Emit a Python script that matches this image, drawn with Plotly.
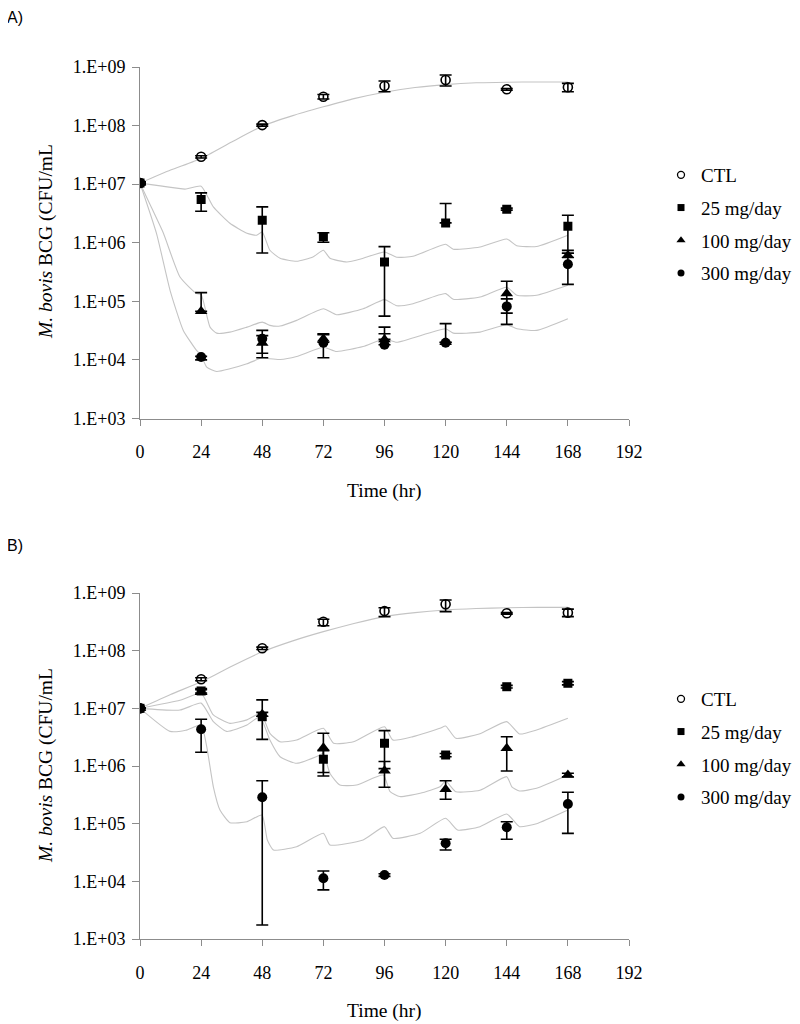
import plotly.graph_objects as go

# ---------------- data ----------------
hours = [0, 24, 48, 72, 96, 120, 144, 168]
x_ticks = [0, 24, 48, 72, 96, 120, 144, 168, 192]
y_tick_vals = [1e3, 1e4, 1e5, 1e6, 1e7, 1e8, 1e9]
y_tick_text = ["1.E+03", "1.E+04", "1.E+05", "1.E+06", "1.E+07", "1.E+08", "1.E+09"]
series_names = ["CTL", "25 mg/day", "100 mg/day", "300 mg/day"]

# Panel A observed (mean, upper, lower) CFU/mL
a_ctl = [1.05e7, 2.93e7, 1.02e8, 3.1e8, 4.73e8, 6.0e8, 4.16e8, 4.5e8]
a_ctl_hi = [1.05e7, 3.05e7, 1.06e8, 3.4e8, 5.76e8, 7.3e8, 4.3e8, 5.25e8]
a_ctl_lo = [1.05e7, 2.8e7, 0.98e8, 2.85e8, 3.78e8, 4.73e8, 4.0e8, 3.78e8]
a_25 = [1.05e7, 5.47e6, 2.43e6, 1.26e6, 4.7e5, 2.18e6, 3.74e6, 1.91e6]
a_25_hi = [1.1e7, 7.1e6, 4.1e6, 1.48e6, 8.6e5, 4.68e6, 3.9e6, 2.95e6]
a_25_lo = [1.0e7, 3.45e6, 6.7e5, 1.02e6, 5.6e4, 2.18e6, 3.6e6, 7.4e5]
a_100 = [1.05e7, 6.75e4, 1.94e4, 2.3e4, 2.24e4, 2.0e4, 1.36e5, 6.1e5]
a_100_hi = [1.05e7, 1.41e5, 2.6e4, 2.8e4, 3.63e4, 2.0e4, 2.2e5, 6.6e5]
a_100_lo = [1.05e7, 6.75e4, 1.3e4, 2.0e4, 2.24e4, 2.0e4, 6.3e4, 5.6e5]
a_300 = [1.05e7, 1.12e4, 2.3e4, 1.97e4, 1.82e4, 1.97e4, 8.2e4, 4.29e5]
a_300_hi = [1.05e7, 1.15e4, 3.19e4, 2.7e4, 2.8e4, 4.17e4, 1.1e5, 6.6e5]
a_300_lo = [1.05e7, 1.0e4, 1.09e4, 1.09e4, 1.82e4, 1.97e4, 4.05e4, 1.95e5]

# Panel B observed
b_ctl = [1.0e7, 3.2e7, 1.1e8, 3.18e8, 4.87e8, 6.37e8, 4.45e8, 4.56e8]
b_ctl_hi = [1.0e7, 3.4e7, 1.15e8, 3.5e8, 5.56e8, 7.56e8, 4.6e8, 5.25e8]
b_ctl_lo = [1.0e7, 3.0e7, 1.05e8, 2.7e8, 3.89e8, 4.75e8, 4.3e8, 3.89e8]
b_25 = [1.0e7, 2.0e7, 7.16e6, 1.31e6, 2.48e6, 1.55e6, 2.37e7, 2.72e7]
b_25_hi = [1.0e7, 2.2e7, 1.4e7, 1.85e6, 4.1e6, 1.65e6, 2.5e7, 2.9e7]
b_25_lo = [1.0e7, 1.85e7, 2.9e6, 7.7e5, 9.0e5, 1.45e6, 2.25e7, 2.55e7]
b_100 = [1.0e7, 1.9e7, 7.9e6, 2.08e6, 8.3e5, 3.94e5, 2.03e6, 6.98e5]
b_100_hi = [1.0e7, 2.1e7, 8.5e6, 3.69e6, 1.2e6, 5.56e5, 3.22e6, 7.5e5]
b_100_lo = [1.0e7, 1.75e7, 7.3e6, 6.7e5, 4.27e5, 2.65e5, 8.2e5, 6.5e5]
b_300 = [1.0e7, 4.33e6, 2.87e5, 1.13e4, 1.29e4, 4.57e4, 8.65e4, 2.19e5]
b_300_hi = [1.0e7, 6.46e6, 5.56e5, 1.51e4, 1.35e4, 5.36e4, 1.08e5, 3.5e5]
b_300_lo = [1.0e7, 1.73e6, 1.75e3, 7.1e3, 1.22e4, 3.5e4, 5.36e4, 6.8e4]

# Model prediction curves (time hr, log10 CFU/mL)
a_ctl_mt = [0, 12, 24, 36, 48, 60, 72, 84, 96, 108, 120, 132, 144, 156, 168]
a_ctl_ml = [7.017, 7.24, 7.44, 7.72, 7.99, 8.17, 8.32, 8.46, 8.57, 8.65, 8.70, 8.73, 8.74, 8.745, 8.745]
a_25_mt = [0, 8, 17.7, 24, 28.8, 35.3, 42, 45.8, 48, 51, 55, 61.5, 67.9, 72, 74.6, 81.2, 87.6, 96,
           100.8, 107.2, 120, 123, 133.5, 144, 147.9, 155.7, 168]
a_25_ml = [7.017, 6.97, 6.915, 6.966, 6.612, 6.333, 6.162, 6.128, 6.185, 5.872, 5.735, 5.684, 5.757,
           5.872, 5.735, 5.672, 5.735, 5.843, 5.752, 5.769, 5.974, 5.889, 5.928, 6.065, 5.95, 5.935, 6.128]
a_100_mt = [0, 4.5, 9.2, 15.7, 22.2, 24, 27.5, 30.1, 35.3, 42, 48, 51, 55, 61.5, 72, 77.2, 87.6, 96,
            100.8, 107.2, 120, 123, 133.5, 144, 148, 155.7, 168]
a_100_ml = [7.017, 6.6, 6.162, 5.415, 5.132, 5.12, 4.56, 4.457, 4.474, 4.56, 4.645, 4.59, 4.578, 4.675,
            4.874, 4.771, 4.874, 5.03, 4.925, 4.96, 5.132, 5.034, 5.074, 5.24, 5.103, 5.103, 5.274]
a_300_mt = [0, 6.5, 11.8, 17, 22.2, 24, 26.2, 30.1, 35.3, 42, 48, 51, 55, 61.5, 72, 77.2, 87.6, 96,
            100.8, 120, 123, 133.5, 144, 148, 155.7, 168]
a_300_ml = [7.017, 6.157, 5.188, 4.504, 4.162, 4.077, 3.877, 3.803, 3.849, 3.934, 4.036, 4.019, 4.007,
            4.058, 4.217, 4.143, 4.228, 4.36, 4.302, 4.532, 4.457, 4.474, 4.60, 4.533, 4.504, 4.704]

b_ctl_mt = [0, 12, 24, 36, 48, 60, 72, 84, 96, 108, 120, 132, 144, 156, 168]
b_ctl_ml = [7.0, 7.24, 7.46, 7.73, 7.98, 8.17, 8.33, 8.47, 8.59, 8.66, 8.705, 8.73, 8.745, 8.75, 8.75]
b_25_mt = [0, 15.7, 24, 28.8, 35.3, 42, 47.4, 51, 55, 61.5, 72, 76, 83.8, 96, 99.3, 107.2, 117.8,
           120, 124, 133.5, 144, 149, 155.7, 168]
b_25_ml = [7.0, 7.14, 7.26, 6.885, 6.74, 6.8, 6.914, 6.567, 6.42, 6.45, 6.654, 6.394, 6.42, 6.68,
           6.45, 6.51, 6.654, 6.694, 6.48, 6.56, 6.77, 6.555, 6.625, 6.827]
b_100_mt = [0, 15.7, 24, 28.8, 34, 42, 47.1, 51, 55, 61.5, 70.7, 72, 74.6, 78.5, 85, 95.5, 98.2, 102,
            110, 117.8, 120, 124, 133.5, 144, 146, 149, 155.7, 168]
b_100_ml = [7.0, 6.97, 7.09, 6.77, 6.6, 6.71, 6.855, 6.45, 6.16, 6.047, 6.19, 6.22, 5.87, 5.67, 5.67,
            5.844, 5.555, 5.47, 5.527, 5.64, 5.74, 5.555, 5.58, 5.815, 5.64, 5.567, 5.613, 5.844]
b_300_mt = [0, 11.8, 18, 24, 26.2, 28.8, 31.4, 35.3, 42, 47.9, 50, 52.4, 61.5, 72, 74.6, 87.6, 96,
            99.3, 110, 120, 124.7, 133.5, 144, 149, 155.7, 168]
b_300_ml = [7.0, 6.6, 6.62, 6.71, 6.335, 5.64, 5.237, 5.017, 5.034, 5.15, 4.717, 4.544, 4.6, 4.833,
            4.63, 4.717, 4.948, 4.746, 4.833, 5.093, 4.89, 4.948, 5.168, 4.948, 5.0, 5.237]

# ---------------- layout helpers ----------------
# The page body has an 8 px margin, so the figure is 792x1016 and placed at (8, 8).
OFF = 8
W, H = 800 - OFF, 1024 - OFF


def px(x):
    return (x - OFF) / W


def py(y):
    return 1 - (y - OFF) / H


SERIF = "Liberation Serif"
AXIS_GREY = "#8c8c8c"
CURVE_GREY = "#c4c4c4"
marker_styles = [
    dict(symbol="circle-open", size=9, color="black", line=dict(width=1.6, color="black")),
    dict(symbol="square", size=9, color="black"),
    dict(symbol="triangle-up", size=11, color="black"),
    dict(symbol="circle", size=10, color="black"),
]
legend_marker_styles = [
    dict(symbol="circle-open", size=7, color="black", line=dict(width=1.3, color="black")),
    dict(symbol="square", size=7, color="black"),
    dict(symbol="triangle-up", size=8, color="black"),
    dict(symbol="circle", size=7, color="black"),
]

fig = go.Figure()

panels = [
    ("x", "y", "legend",
     [(a_ctl_mt, a_ctl_ml), (a_25_mt, a_25_ml), (a_100_mt, a_100_ml), (a_300_mt, a_300_ml)],
     [(a_ctl, a_ctl_hi, a_ctl_lo), (a_25, a_25_hi, a_25_lo), (a_100, a_100_hi, a_100_lo),
      (a_300, a_300_hi, a_300_lo)]),
    ("x2", "y2", "legend2",
     [(b_ctl_mt, b_ctl_ml), (b_25_mt, b_25_ml), (b_100_mt, b_100_ml), (b_300_mt, b_300_ml)],
     [(b_ctl, b_ctl_hi, b_ctl_lo), (b_25, b_25_hi, b_25_lo), (b_100, b_100_hi, b_100_lo),
      (b_300, b_300_hi, b_300_lo)]),
]

for xa, ya, leg, curves, obs in panels:
    for (mt, ml) in curves:
        fig.add_trace(go.Scatter(
            x=mt, y=[10 ** v for v in ml], mode="lines", xaxis=xa, yaxis=ya,
            line=dict(color=CURVE_GREY, width=1.1, shape="spline", smoothing=0.5),
            showlegend=False, hoverinfo="skip"))
    for i, (m, hi, lo) in enumerate(obs):
        fig.add_trace(go.Scatter(
            x=hours, y=m, mode="markers", xaxis=xa, yaxis=ya,
            marker=marker_styles[i], showlegend=False,
            error_y=dict(type="data", symmetric=False,
                         array=[h - v for h, v in zip(hi, m)],
                         arrayminus=[v - l for v, l in zip(m, lo)],
                         color="black", thickness=1.6, width=6)))
    for i, name in enumerate(series_names):
        fig.add_trace(go.Scatter(
            x=[None], y=[None], mode="markers", xaxis=xa, yaxis=ya, name=name,
            marker=legend_marker_styles[i], legend=leg, legendgroup=leg + name,
            showlegend=True))

x_dom = [px(140), px(629)]
ya_dom = [py(418.5), py(67)]
yb_dom = [py(939), py(593)]

xaxis_style = dict(range=[0, 192], tickmode="array", tickvals=x_ticks, ticks="outside", ticklen=6,
                   tickcolor=AXIS_GREY, showline=True, linecolor=AXIS_GREY, linewidth=1,
                   showgrid=False, zeroline=False, automargin=False, ticklabelstandoff=11,
                   tickfont=dict(family=SERIF, size=18, color="black"), domain=x_dom)
yaxis_style = dict(type="log", range=[3, 9], tickmode="array", tickvals=y_tick_vals,
                   ticktext=y_tick_text, ticks="outside", ticklen=7, tickcolor=AXIS_GREY,
                   showline=True, linecolor=AXIS_GREY, linewidth=1, showgrid=False,
                   zeroline=False, automargin=False, ticklabelstandoff=3,
                   tickfont=dict(family=SERIF, size=18, color="black"))

legend_style = dict(xref="container", yref="container", xanchor="left", yanchor="top",
                    font=dict(family=SERIF, size=19, color="black"),
                    tracegroupgap=5, itemwidth=30, bgcolor="rgba(0,0,0,0)", borderwidth=0)

ann_font = dict(family=SERIF, size=19.5, color="black")
label_font = dict(family="Liberation Sans", size=16, color="black")

fig.update_layout(
    width=W, height=H, margin=dict(l=0, r=0, t=0, b=0, autoexpand=False),
    paper_bgcolor="white", plot_bgcolor="white",
    xaxis=dict(xaxis_style, anchor="y"),
    yaxis=dict(yaxis_style, domain=ya_dom, anchor="x"),
    xaxis2=dict(xaxis_style, anchor="y2"),
    yaxis2=dict(yaxis_style, domain=yb_dom, anchor="x2"),
    legend=dict(legend_style, x=px(661), y=py(156)),
    legend2=dict(legend_style, x=px(661), y=py(680)),
    annotations=[
        dict(text="A)", x=px(5), y=py(18), xref="paper", yref="paper", xanchor="left",
             yanchor="middle", showarrow=False, font=label_font),
        dict(text="B)", x=px(5), y=py(545), xref="paper", yref="paper", xanchor="left",
             yanchor="middle", showarrow=False, font=label_font),
        dict(text="Time (hr)", x=px(384.5), y=py(491), xref="paper", yref="paper",
             xanchor="center", yanchor="middle", showarrow=False, font=ann_font),
        dict(text="Time (hr)", x=px(384.5), y=py(1011), xref="paper", yref="paper",
             xanchor="center", yanchor="middle", showarrow=False, font=ann_font),
        dict(text="<i>M. bovis</i> BCG (CFU/mL", x=px(46), y=py(242), xref="paper", yref="paper",
             xanchor="center", yanchor="middle", textangle=-90, showarrow=False, font=ann_font),
        dict(text="<i>M. bovis</i> BCG (CFU/mL", x=px(46), y=py(766), xref="paper", yref="paper",
             xanchor="center", yanchor="middle", textangle=-90, showarrow=False, font=ann_font),
    ],
)

fig.write_html("out.html")
